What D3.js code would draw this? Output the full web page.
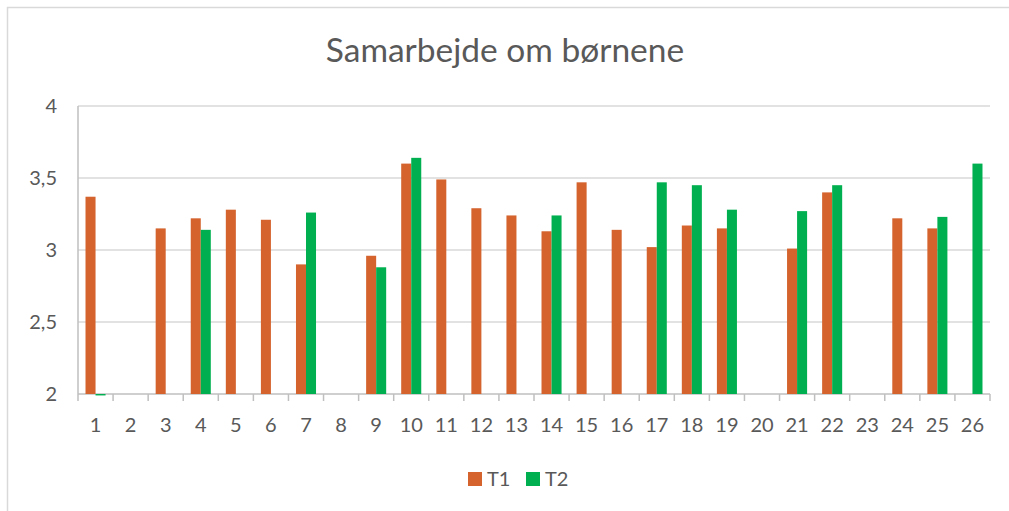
<!DOCTYPE html>
<html>
<head>
<meta charset="utf-8">
<script src="https://cdn.jsdelivr.net/npm/d3@7"></script>
<style>
  body { margin: 0; background: #fff; }
  text { font-family: Lato, "Open Sans", sans-serif; fill: #595959; }
</style>
</head>
<body>
<div id="chart"></div>
<script>
// grouped bar chart: Samarbejde om børnene, T1 vs T2

const categories = d3.range(1, 27).map(String);
const t1 = [3.37, null, 3.15, 3.22, 3.28, 3.21, 2.90, null, 2.96, 3.60, 3.49, 3.29, 3.24,
            3.13, 3.47, 3.14, 3.02, 3.17, 3.15, null, 3.01, 3.40, null, 3.22, 3.15, null];
const t2 = [1.99, null, null, 3.14, null, null, 3.26, null, 2.88, 3.64, null, null, null,
            3.24, null, null, 3.47, 3.45, 3.28, null, 3.27, 3.45, null, null, 3.23, 3.60];
const seriesNames = ["T1", "T2"];
const yTicks = [2, 2.5, 3, 3.5, 4];

const colors = {T1: "#d4632d", T2: "#00b050"};

const W = 1009, H = 511;
const margin = {top: 106, right: 19, bottom: 117, left: 78};
const width = W - margin.left - margin.right,
      height = H - margin.top - margin.bottom;

const svg = d3.select("#chart")
  .append("svg")
  .attr("width", W)
  .attr("height", H);

// chart frame (only left and top edges are inside the picture)
svg.append("rect")
  .attr("x", 7.5).attr("y", 7.5)
  .attr("width", 1040).attr("height", 560)
  .attr("fill", "#fff")
  .attr("stroke", "#d9d9d9")
  .attr("stroke-width", 1.5);

svg.append("text")
  .attr("x", 505).attr("y", 62)
  .attr("text-anchor", "middle")
  .attr("font-size", 33.5)
  .text("Samarbejde om børnene");

const g = svg.append("g")
  .attr("transform", `translate(${margin.left},${margin.top})`);

const x0 = d3.scaleBand()
  .domain(categories)
  .range([0, width])
  .padding(0);

// Excel-like gap width of 150%
const groupW = x0.bandwidth() * 2 / 3.5;
const x1 = d3.scaleBand()
  .domain(seriesNames)
  .range([0, groupW]);

const y = d3.scaleLinear()
  .domain([2, 4])
  .range([height, 0]);

// gridlines
g.selectAll(".grid")
  .data(yTicks.filter(d => d > 2))
  .enter()
  .append("line")
  .attr("x1", 0).attr("x2", width)
  .attr("y1", d => y(d)).attr("y2", d => y(d))
  .attr("stroke", "#d9d9d9")
  .attr("stroke-width", 1.5);

// y labels
g.selectAll(".ylab")
  .data(yTicks)
  .enter()
  .append("text")
  .attr("x", -21)
  .attr("y", d => y(d))
  .attr("dy", "0.35em")
  .attr("text-anchor", "end")
  .attr("font-size", 20)
  .text(d => String(d).replace(".", ","));

// left axis line
g.append("line")
  .attr("x1", 0).attr("x2", 0)
  .attr("y1", 0).attr("y2", height)
  .attr("stroke", "#bfbfbf")
  .attr("stroke-width", 1.5);

// x axis
const xAxis = g.append("g")
  .attr("transform", `translate(0,${height})`);

xAxis.append("line")
  .attr("x1", 0).attr("x2", width)
  .attr("stroke", "#bfbfbf")
  .attr("stroke-width", 1.5);

xAxis.selectAll(".tick")
  .data(categories.concat(["end"]))
  .enter()
  .append("line")
  .attr("x1", d => d === "end" ? width : x0(d))
  .attr("x2", d => d === "end" ? width : x0(d))
  .attr("y1", 0).attr("y2", 7)
  .attr("stroke", "#bfbfbf")
  .attr("stroke-width", 1.5);

xAxis.selectAll(".xlab")
  .data(categories)
  .enter()
  .append("text")
  .attr("x", d => x0(d) + x0.bandwidth() / 2)
  .attr("y", 38)
  .attr("text-anchor", "middle")
  .attr("font-size", 20)
  .text(d => d);

// bars
const rows = categories.map((c, i) => ({cat: c, vals: [
  {key: "T1", v: t1[i]}, {key: "T2", v: t2[i]}
]}));

g.selectAll(".grp")
  .data(rows)
  .enter()
  .append("g")
  .attr("transform", d => `translate(${x0(d.cat) + (x0.bandwidth() - groupW) / 2},0)`)
  .selectAll("rect")
  .data(d => d.vals.filter(s => s.v != null))
  .enter()
  .append("rect")
  .attr("x", d => x1(d.key))
  .attr("width", x1.bandwidth())
  .attr("y", d => y(Math.max(d.v, 2)))
  .attr("height", d => Math.abs(y(d.v) - y(2)))
  .attr("fill", d => colors[d.key]);

// legend
const legend = svg.append("g")
  .attr("transform", "translate(468,472)");

const li = legend.selectAll(".item")
  .data(seriesNames)
  .enter()
  .append("g")
  .attr("transform", (d, i) => `translate(${i * 58},0)`);

li.append("rect")
  .attr("width", 14).attr("height", 14)
  .attr("fill", d => colors[d]);

li.append("text")
  .attr("x", 19).attr("y", 7)
  .attr("dy", "0.35em")
  .attr("font-size", 20)
  .text(d => d);
</script>
</body>
</html>
